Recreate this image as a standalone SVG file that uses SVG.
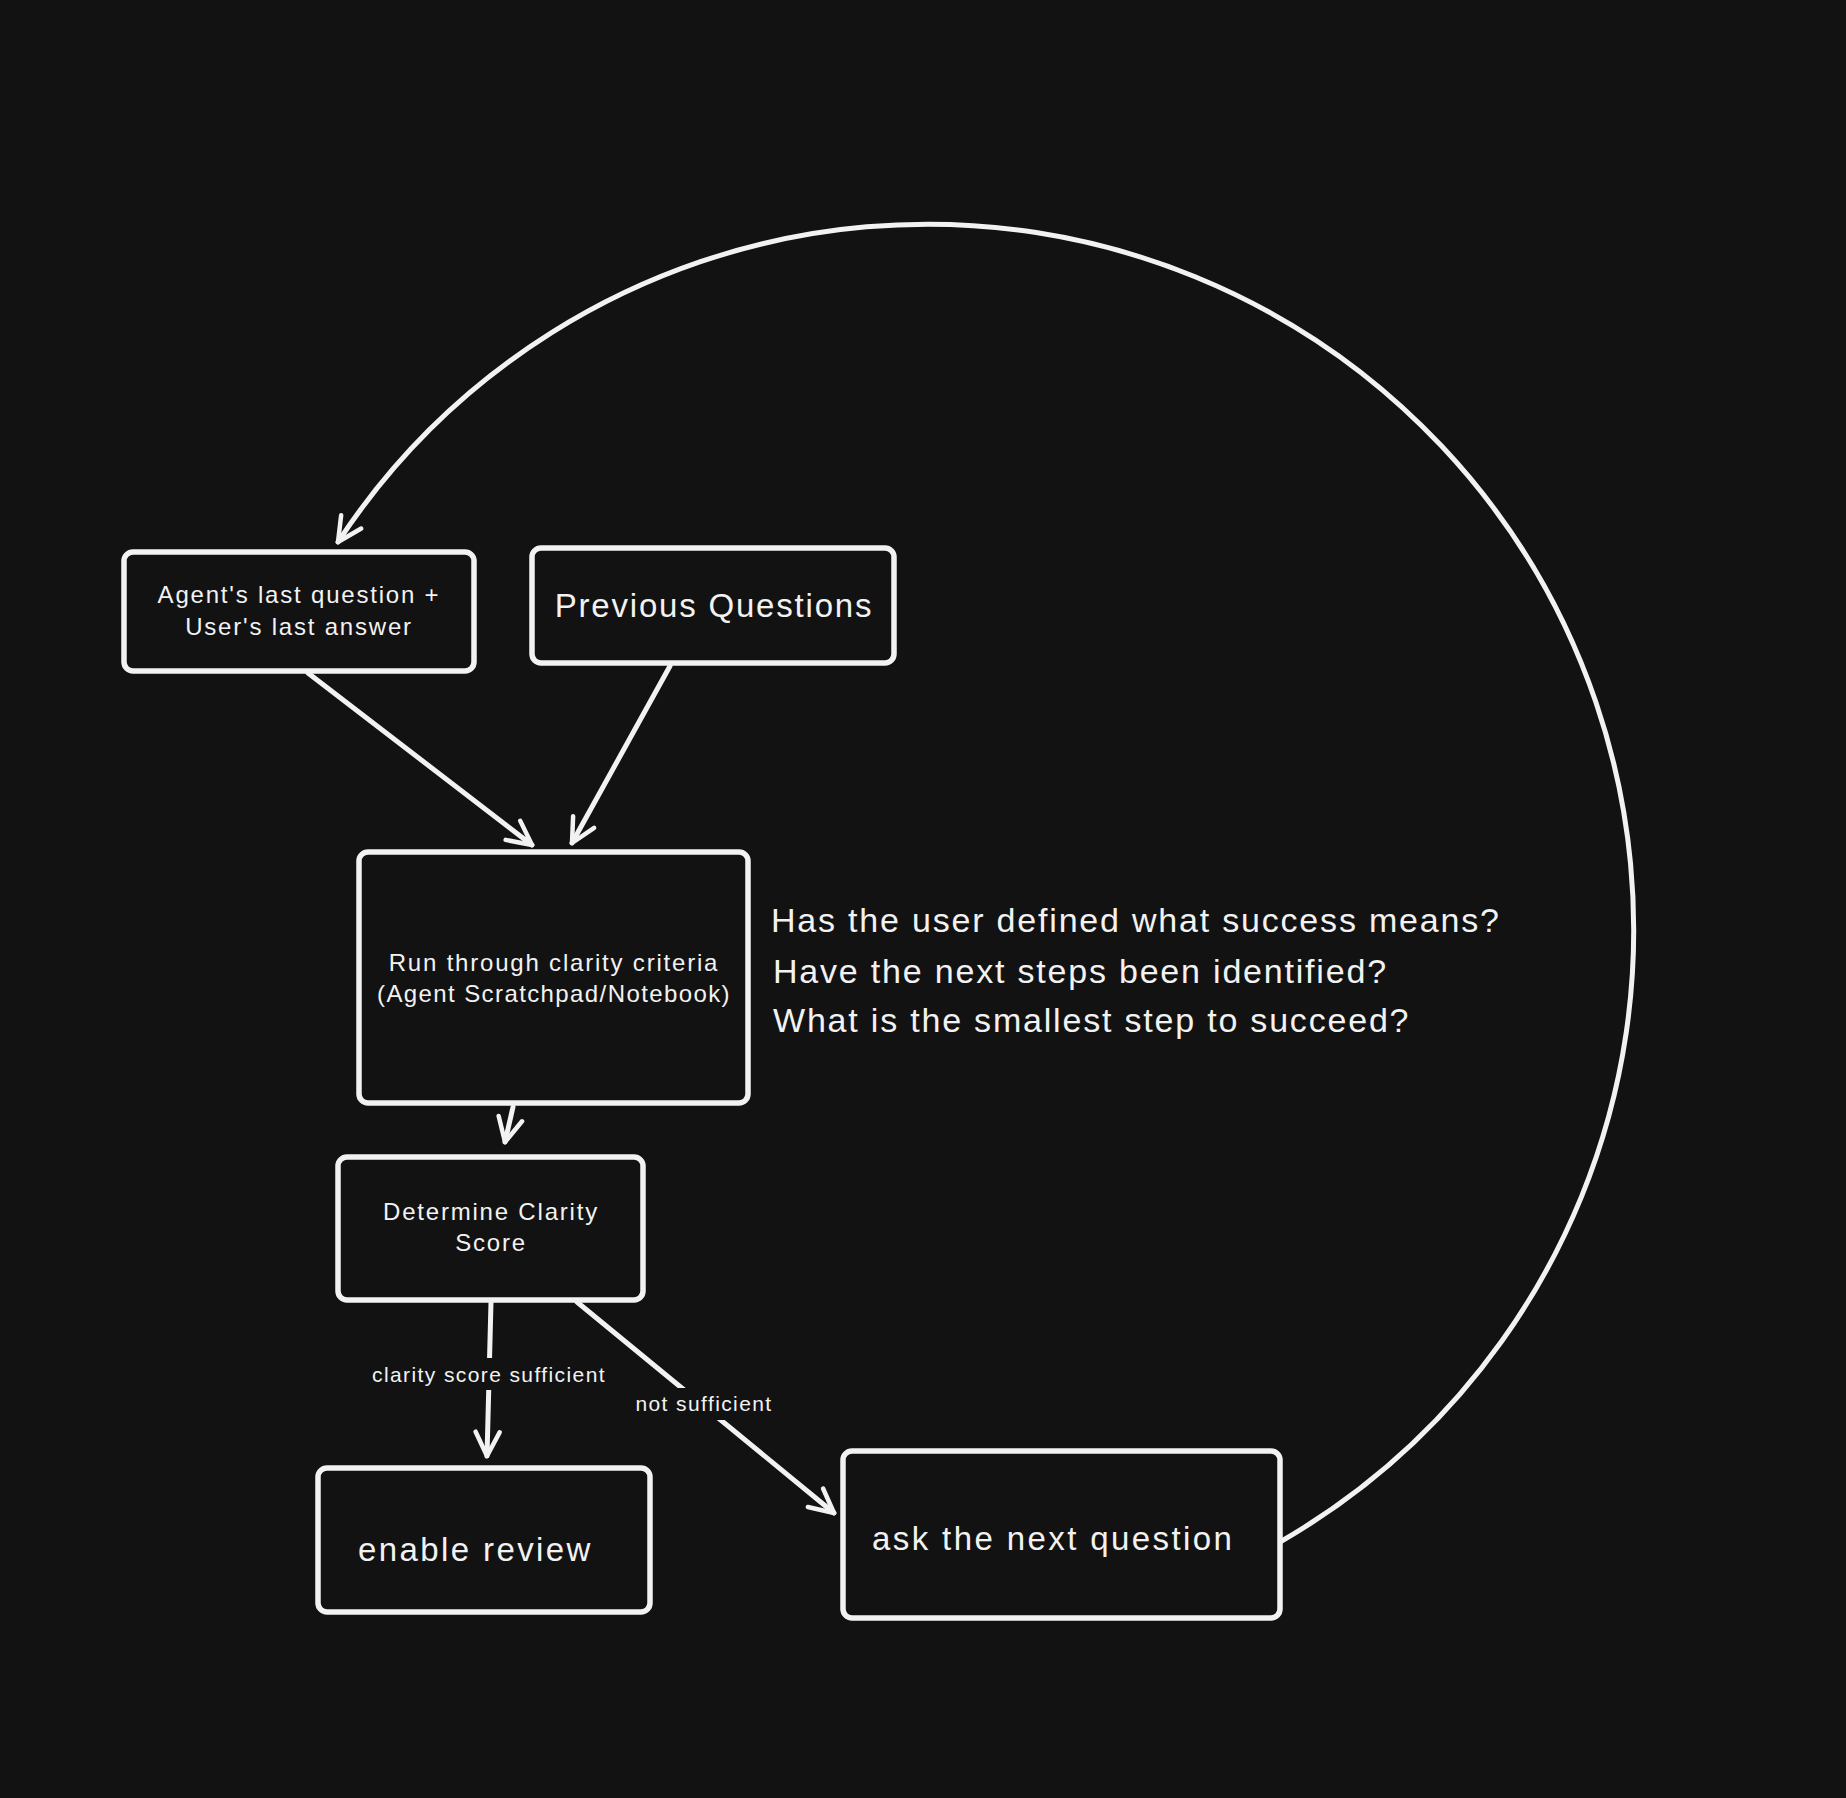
<svg xmlns="http://www.w3.org/2000/svg" width="1846" height="1798" viewBox="0 0 1846 1798">
<style>
.box{fill:#121212;stroke:#f2f2f2;stroke-width:5.5;}
.ln{fill:none;stroke:#f2f2f2;stroke-width:5;stroke-linecap:round;}
.t{fill:#f2f2f2;font-family:"Liberation Sans",Arial,sans-serif;}
.big{font-size:33px;letter-spacing:2.4px;}
.mid{font-size:24px;letter-spacing:1.8px;}
.sm{font-size:21px;letter-spacing:1.4px;}
.lblbg{fill:#121212;}
</style>
<defs>
<marker id="ah" viewBox="0 0 20 20" refX="18" refY="10" markerWidth="6" markerHeight="6" orient="auto" markerUnits="strokeWidth">
<path d="M2,2 L18,10 L2,18" fill="none" stroke="#f2f2f2" stroke-width="3" stroke-linecap="round" stroke-linejoin="round"/>
</marker>
</defs>
<rect width="1846" height="1798" fill="#121212"/>
<g id="connectors">
<path class="ln" d="M1280,1542 A706,706 0 1 0 338,542" marker-end="url(#ah)"/>
<line class="ln" x1="308" y1="673" x2="532" y2="845" marker-end="url(#ah)"/>
<line class="ln" x1="670" y1="666" x2="572" y2="843" marker-end="url(#ah)"/>
<line class="ln" x1="513" y1="1107" x2="505" y2="1142" marker-end="url(#ah)"/>
<line class="ln" x1="491" y1="1302" x2="487" y2="1456" marker-end="url(#ah)"/>
<line class="ln" x1="577" y1="1302" x2="834" y2="1513" marker-end="url(#ah)"/>
<rect class="lblbg" x="360" y="1358" width="258" height="32"/>
<text class="t sm" x="489" y="1382" text-anchor="middle">clarity score sufficient</text>
<rect class="lblbg" x="626" y="1388" width="156" height="32"/>
<text class="t sm" x="704" y="1411" text-anchor="middle">not sufficient</text>
</g>
<g id="node-last">
<rect class="box" x="124" y="552" width="350" height="119" rx="9"/>
<text class="t mid" x="299" y="603" text-anchor="middle">Agent's last question +</text>
<text class="t mid" x="299" y="635" text-anchor="middle">User's last answer</text>
</g>
<g id="node-prev">
<rect class="box" x="532" y="548" width="362" height="115" rx="9"/>
<text class="t big" x="714" y="617" text-anchor="middle" style="letter-spacing:1.8px">Previous Questions</text>
</g>
<g id="node-run">
<rect class="box" x="359" y="852" width="389" height="251" rx="9"/>
<text class="t mid" x="554" y="971" text-anchor="middle">Run through clarity criteria</text>
<text class="t mid" x="554" y="1002" text-anchor="middle" style="letter-spacing:1.4px">(Agent Scratchpad/Notebook)</text>
</g>
<g id="criteria">
<text class="t" x="771" y="932" font-size="34" letter-spacing="1.8">Has the user defined what success means?</text>
<text class="t" x="773" y="983" font-size="34" letter-spacing="1.8">Have the next steps been identified?</text>
<text class="t" x="773" y="1032" font-size="34" letter-spacing="1.8">What is the smallest step to succeed?</text>
</g>
<g id="node-score">
<rect class="box" x="338" y="1157" width="305" height="143" rx="9"/>
<text class="t mid" x="491" y="1220" text-anchor="middle">Determine Clarity</text>
<text class="t mid" x="491" y="1251" text-anchor="middle">Score</text>
</g>
<g id="node-review">
<rect class="box" x="318" y="1468" width="332" height="144" rx="9"/>
<text class="t big" x="358" y="1561">enable review</text>
</g>
<g id="node-ask">
<rect class="box" x="843" y="1451" width="437" height="167" rx="9"/>
<text class="t big" x="872" y="1550">ask the next question</text>
</g>
</svg>
